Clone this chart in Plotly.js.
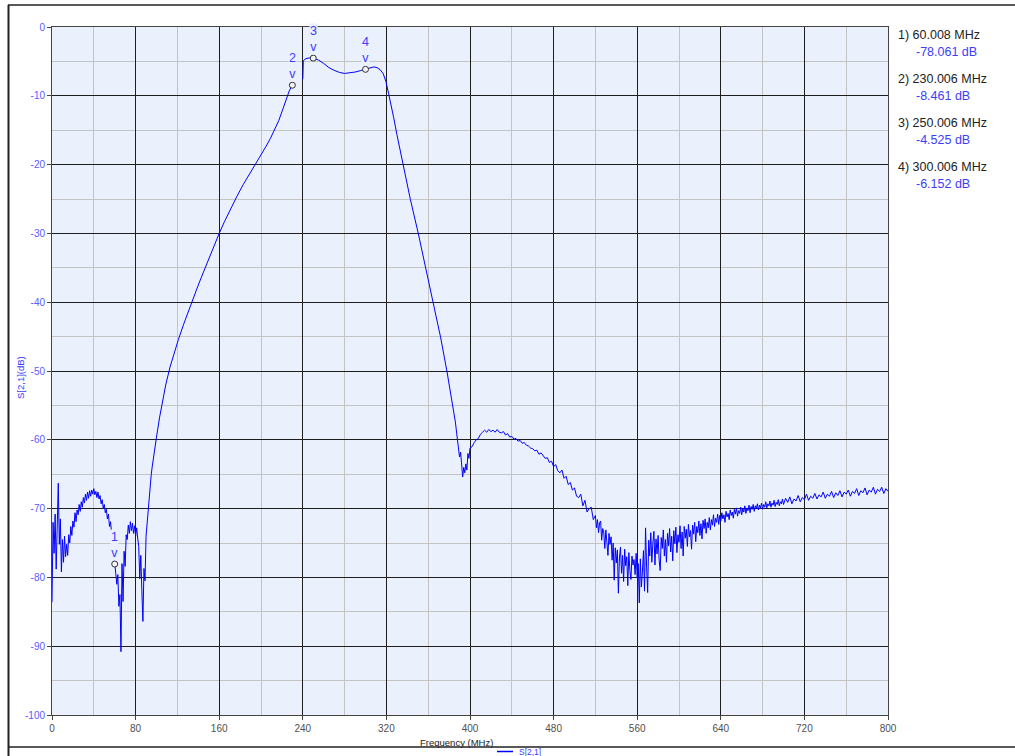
<!DOCTYPE html>
<html><head><meta charset="utf-8">
<script src="https://cdn.plot.ly/plotly-3.0.1.min.js"></script>
<style>html,body{margin:0;padding:0;background:#fff;}#chart{width:1015px;height:756px;}</style>
</head><body><div id="chart"></div>
<script>
// ---- data ----
const lowFreq = [0,1,2,3,4,5,6,7,8,9,10,11,12,13,14,15,16,17,18,19,20,21,22,23,24,25,26,27,28,29,30,31,32,33,34,35,36,37,38,39,40,41,42,43,44,45,46,47,48,49,50,51,52,53,54,55,56,57,58,59,60,61,62,63,64,65,66,67,68,69,70,71,72,73,74,75,76,77,78,79,80,81,82,83,84,85,86,87,88,89,90,91,92,93,94,95,96];
const lowDb = [-83.6,-72.0,-76.5,-70.8,-78.8,-72.5,-66.3,-75.2,-71.5,-79.2,
 -74.5,-77.8,-74.0,-77.0,-75.2,-76.8,-73.8,-75.0,-72.6,-73.9,
 -71.8,-72.7,-70.6,-71.9,-70.2,-70.9,-69.4,-70.4,-69.0,-69.8,
 -68.4,-69.2,-67.9,-68.8,-67.6,-68.5,-67.4,-68.2,-67.3,-67.9,
 -67.1,-68.0,-67.5,-68.4,-67.6,-68.6,-68.1,-69.3,-68.7,-69.9,
 -69.4,-70.6,-70.1,-71.5,-70.8,-72.6,-71.9,-73.5,-74.8,-76.4,
 -78.06,-79.4,-81.0,-79.6,-84.2,-82.5,-90.8,-78.0,-83.5,-76.2,
 -78.4,-73.8,-74.5,-72.4,-73.6,-71.9,-73.2,-72.1,-73.6,-72.5,
 -74.0,-72.8,-74.3,-75.5,-80.2,-76.8,-82.0,-86.4,-78.7,-80.5,
 -74.0,-72.0,-69.8,-68.0,-66.5,-65.0,-63.8];

const passFreq = [98,100,103,106,109,113,117,121,126,130,134,140,145,150,155,160,165,170,177,183,189,195,200,205,209,213,217,221,224.5,227,230,235,240,240.5,243,246,250,255,260,265,270,275,280,285,290,295,300,304,308,311,314,317,319.6,322,324,327,330,336,343,350.5,358,365,372,378,383,386,388,390,391,392,393,394,395,396,397,398,399,400,402,404,406,408,410,412];
const passDb = [-61.5,-59.6,-56.7,-54.1,-51.9,-49.4,-47.3,-45.4,-43.2,-41.5,-39.9,-37.5,-35.6,-33.7,-31.85,-30.0,-28.3,-26.7,-24.6,-22.9,-21.4,-20.0,-18.6,-17.3,-16.2,-15.0,-13.6,-11.9,-10.3,-9.3,-8.461,null,-7.6,-4.9,-4.6,-4.5,-4.525,-4.8,-5.3,-5.9,-6.3,-6.6,-6.75,-6.7,-6.55,-6.35,-6.152,-5.95,-5.8,-5.9,-6.2,-6.8,-7.95,-9.6,-10.9,-13.2,-15.6,-20.0,-25.1,-30.0,-35.2,-39.9,-45.2,-50.1,-54.6,-57.4,-60.0,-62.5,-61.8,-64.6,-65.4,-64.0,-64.8,-63.5,-64.4,-62.0,-62.7,-61.2,-61.0,-60.4,-60.0,-59.8,-59.2,-58.9];

const humpFreq = [414,416,418,420,422,424,426,428,430,432,434,436,438,440,442,444,446,448,450,452,454,456,458,460,462,464,466,468,470,472,474,476,478,480,482,484,486,488,490,492,494,496,498,500,502,504,506,508,510,512,514,516,518];
const humpDb = [-58.6,-58.9,-58.5,-58.8,-58.6,-58.9,-58.5,-58.9,-59.0,-58.8,-59.3,-59.1,-59.6,-59.5,-59.9,-59.8,-60.2,-60.1,-60.5,-60.4,-60.8,-60.9,-61.2,-61.3,-61.6,-61.5,-62.1,-61.9,-62.4,-62.7,-62.6,-63.3,-63.1,-63.9,-63.6,-64.5,-64.8,-64.4,-65.6,-65.3,-66.5,-66.2,-67.3,-67.0,-68.2,-68.4,-67.9,-69.6,-68.8,-70.5,-70.0,-69.8,-71.6];

const dipFreq = [520,521,522,523,524,525,526,527,528,529,530,531,532,533,534,535,536,537,538,539,
 540,541,542,543,544,545,546,547,548,549,550,551,552,553,554,555,556,557,558,559,
 560,561,562,563,564,565,566,567,568,569,570,571,572,573,574,575,576,577,578,579,
 580,581,582,583,584,585,586,587,588,589,590,591,592,593,594,595,596,597,598,599,
 600,601,602,603,604,605,606,607,608,609,610,611,612,613,614,615,616,617,618,619,
 620,621,622,623,624,625,626,627,628,629,630,631,632,633,634,635,636,637,638,639,
 640,641,642,643,644,645,646,647,648,649,650,651,652,653,654,655,656,657,658,659,
 660,661,662,663,664,665,666,667,668,669,670,671,672,673,674,675,676,677,678,679,
 680,681,682,683,684,685,686,687,688,689,690,691,692,693,694,695,696,697,698,699];
const dipDb = [-71.0,-72.8,-71.6,-73.5,-72.1,-71.8,-74.6,-72.9,-73.4,-75.8,-73.1,-74.9,-76.8,-73.6,-75.2,-74.1,-77.5,-75.0,-80.4,-75.7,
 -77.9,-76.0,-82.3,-77.2,-75.6,-79.4,-76.8,-80.6,-75.9,-78.3,-77.0,-81.2,-76.4,-79.0,-80.3,-76.9,-78.2,-77.4,-79.6,-76.5,
 -80.1,-78.0,-83.7,-77.3,-81.4,-79.2,-76.1,-82.0,-72.8,-78.5,-82.2,-74.6,-76.9,-73.5,-77.8,-75.0,-73.3,-78.2,-74.4,-76.6,
 -73.9,-77.5,-79.0,-74.2,-75.8,-73.1,-76.9,-74.5,-77.8,-73.6,-75.4,-72.9,-76.3,-74.0,-77.6,-73.2,-75.1,-72.7,-76.4,-73.8,
 -74.9,-72.5,-75.8,-73.4,-76.9,-72.6,-74.3,-73.0,-75.5,-72.3,-74.1,-73.2,-75.9,-72.4,-73.7,-72.0,-74.8,-72.6,-73.5,-71.8,
 -73.9,-72.2,-74.4,-71.7,-72.9,-71.5,-73.6,-72.0,-72.8,-71.3,-73.1,-71.6,-72.4,-70.9,-72.6,-71.4,-72.0,-70.8,-72.3,-71.0,
 -71.8,-70.6,-71.5,-70.9,-72.0,-70.4,-71.2,-70.7,-71.6,-70.2,-71.0,-70.5,-71.4,-70.1,-70.8,-69.9,-71.1,-70.3,-70.7,-69.8,
 -70.9,-70.0,-70.5,-69.6,-70.7,-69.9,-70.3,-69.5,-70.6,-69.7,-70.1,-69.4,-70.4,-69.6,-70.0,-69.3,-70.2,-69.5,-69.9,-69.2,
 -70.1,-69.4,-69.8,-69.0,-69.9,-69.3,-69.6,-68.9,-69.8,-69.2,-69.5,-68.8,-69.7,-69.1,-69.4,-68.7,-69.6,-69.0,-69.3,-68.6];

const tailFreq = [700,702,704,706,708,710,712,714,716,718,720,722,724,726,728,730,732,734,736,738,740,742,744,746,748,750,752,754,756,758,760,762,764,766,768,770,772,774,776,778,780,782,784,786,788,790,792,794,796,798,800];
const tailDb = [-69.4,-68.5,-69.1,-68.3,-69.3,-68.6,-68.9,-68.1,-69.0,-68.4,-68.7,-67.9,-68.8,-68.2,-68.5,-67.8,-68.6,-68.0,-68.3,-67.6,-68.5,-67.9,-68.2,-67.5,-68.4,-67.7,-68.1,-67.4,-68.3,-67.6,-67.9,-67.3,-68.2,-67.5,-67.8,-67.1,-68.1,-67.4,-67.7,-67.0,-68.0,-67.3,-67.6,-66.9,-67.9,-67.2,-67.5,-66.9,-67.8,-67.1,-67.5];

const markerIds = ['1','2','3','4'];
const markerFreq = [60.008, 230.006, 250.006, 300.006];
const markerDb = [-78.061, -8.461, -4.525, -6.152];

const xTickVals = [0,80,160,240,320,400,480,560,640,720,800];
const yTickVals = [0,-10,-20,-30,-40,-50,-60,-70,-80,-90,-100];

// ---- styling ----
const FONT = 'Liberation Sans, Arial, sans-serif';
const PLOT_BG = '#eaf0fc';
const BLUE_TXT = '#3c3cff';
const W = 1015, H = 756;
const L = 52, R = 888, T = 27, B = 715;
const px2paperX = p => (p - L) / (R - L);
const px2paperY = p => (B - p) / (B - T);

const freq = lowFreq.concat(passFreq, humpFreq, dipFreq, tailFreq);
const s21 = lowDb.concat(passDb, humpDb, dipDb, tailDb);

const traces = [
  {x: freq, y: s21, type: 'scatter', mode: 'lines', name: 'S[2,1]',
   line: {color: '#0000ff', width: 1}, connectgaps: false, showlegend: false},
  {x: markerFreq, y: markerDb, type: 'scatter', mode: 'markers', showlegend: false,
   marker: {size: 6, color: '#f4f4f4', line: {color: '#333', width: 1}}}
];

const annotations = [];
markerIds.forEach((id, i) => {
  annotations.push({x: markerFreq[i], y: markerDb[i], xref: 'x', yref: 'y',
    text: id + '<br>v', showarrow: false, yanchor: 'bottom', yshift: 3,
    font: {family: FONT, size: 12.5, color: BLUE_TXT}, bgcolor: PLOT_BG, borderpad: 0});
  annotations.push({xref: 'paper', yref: 'paper', x: px2paperX(896), y: px2paperY(35 + 44 * i),
    xanchor: 'left', yanchor: 'middle', showarrow: false,
    text: id + ') ' + markerFreq[i].toFixed(3) + ' MHz',
    font: {family: FONT, size: 12.5, color: '#222'}});
  annotations.push({xref: 'paper', yref: 'paper', x: px2paperX(914), y: px2paperY(52.3 + 43.8 * i),
    xanchor: 'left', yanchor: 'middle', showarrow: false,
    text: markerDb[i].toFixed(3) + ' dB',
    font: {family: FONT, size: 12.5, color: BLUE_TXT}});
});
annotations.push({xref: 'paper', yref: 'paper', x: px2paperX(456), y: px2paperY(742),
  xanchor: 'center', yanchor: 'middle', showarrow: false, text: 'Frequency (MHz)',
  font: {family: FONT, size: 9.5, color: '#222'}});
annotations.push({xref: 'paper', yref: 'paper', x: px2paperX(20), y: px2paperY(378),
  xanchor: 'center', yanchor: 'middle', showarrow: false, text: 'S[2,1](dB)', textangle: -90,
  font: {family: FONT, size: 9.5, color: BLUE_TXT}});
annotations.push({xref: 'paper', yref: 'paper', x: px2paperX(517), y: px2paperY(752),
  xanchor: 'left', yanchor: 'middle', showarrow: false, text: 'S[2,1]',
  font: {family: FONT, size: 8.5, color: BLUE_TXT}});

const shapes = [
  {type: 'line', xref: 'paper', yref: 'paper', x0: px2paperX(8.5), x1: px2paperX(8.5), y0: px2paperY(5), y1: px2paperY(760), line: {color: '#222', width: 2}},
  {type: 'line', xref: 'paper', yref: 'paper', x0: px2paperX(8), x1: px2paperX(1020), y0: px2paperY(5), y1: px2paperY(5), line: {color: '#222', width: 1.5}},
  {type: 'line', xref: 'paper', yref: 'paper', x0: px2paperX(8), x1: px2paperX(1020), y0: px2paperY(747), y1: px2paperY(747), line: {color: '#222', width: 1.5}},
  {type: 'line', xref: 'paper', yref: 'paper', x0: px2paperX(497), x1: px2paperX(513), y0: px2paperY(751.5), y1: px2paperY(751.5), line: {color: '#0000ff', width: 1.5}}
];

const layout = {
  width: W, height: H,
  margin: {l: L, r: W - R, t: T, b: H - B, pad: 0},
  paper_bgcolor: '#ffffff', plot_bgcolor: PLOT_BG,
  font: {family: FONT},
  showlegend: false,
  xaxis: {range: [0, 800], tickvals: xTickVals, ticktext: xTickVals.map(String),
    showgrid: true, gridcolor: '#1e1e1e', gridwidth: 1, zeroline: false,
    showline: true, mirror: true, linecolor: '#444', linewidth: 1,
    ticks: 'outside', ticklen: 4, tickcolor: '#444',
    tickfont: {family: FONT, size: 10, color: '#505050'},
    minor: {dtick: 40, tick0: 0, showgrid: true, gridcolor: '#c4c4c4', gridwidth: 1, ticks: ''},
    fixedrange: true},
  yaxis: {range: [-100, 0], tickvals: yTickVals, ticktext: yTickVals.map(String),
    showgrid: true, gridcolor: '#1e1e1e', gridwidth: 1, zeroline: false,
    showline: true, mirror: true, linecolor: '#444', linewidth: 1,
    ticks: 'outside', ticklen: 4, tickcolor: '#444',
    tickfont: {family: FONT, size: 10, color: '#5a5aff'},
    minor: {dtick: 5, tick0: 0, showgrid: true, gridcolor: '#c4c4c4', gridwidth: 1, ticks: ''},
    fixedrange: true},
  annotations: annotations,
  shapes: shapes
};

Plotly.newPlot('chart', traces, layout, {displayModeBar: false, staticPlot: true});
</script></body></html>
